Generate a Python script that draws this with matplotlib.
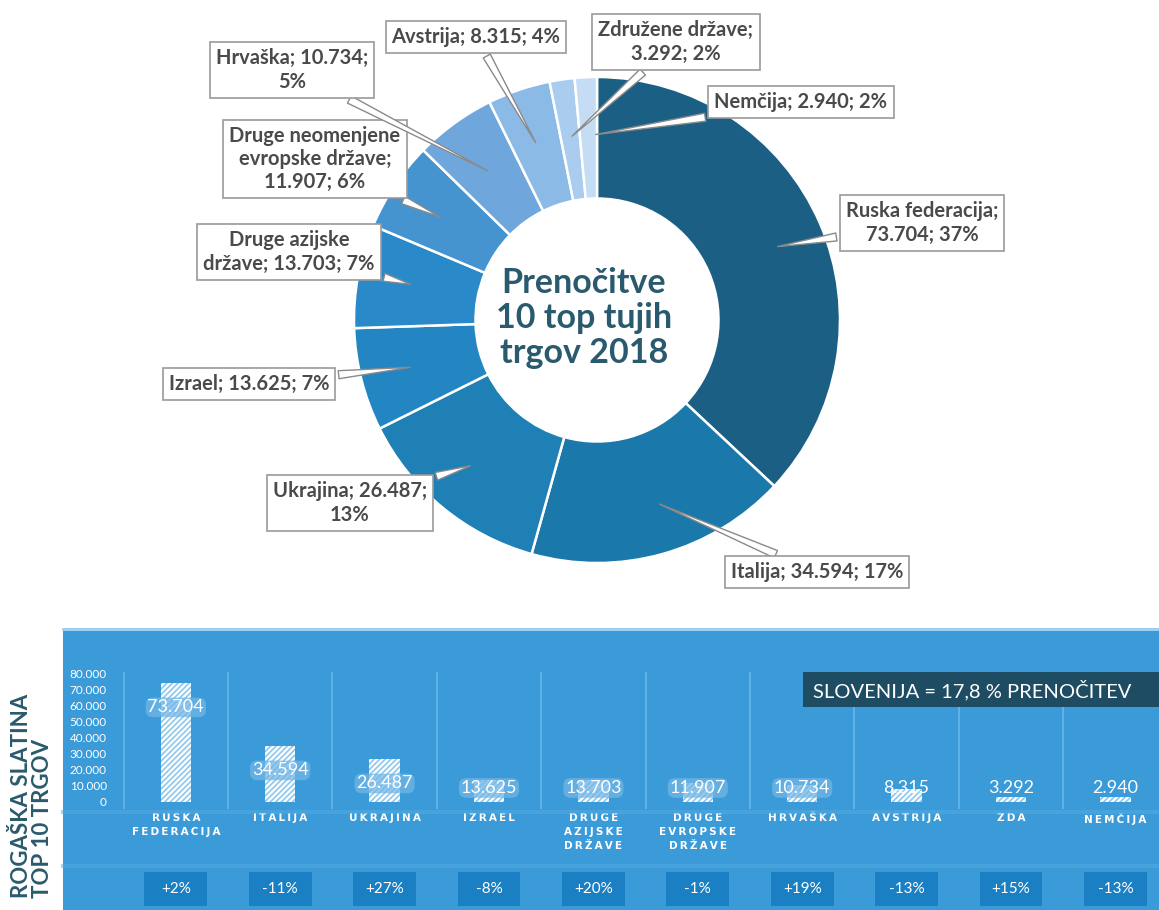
import matplotlib
matplotlib.use("Agg")
import matplotlib.pyplot as plt
from matplotlib.patches import Rectangle
from matplotlib.lines import Line2D
import numpy as np

# ---------------- data ----------------
donut_names = ["Ruska federacija", "Italija", "Ukrajina", "Izrael",
               "Druge azijske\ndržave", "Druge neomenjene\nevropske države",
               "Hrvaška", "Avstrija", "Združene države", "Nemčija"]
values = [73704, 34594, 26487, 13625, 13703, 11907, 10734, 8315, 3292, 2940]
shares = [37, 17, 13, 7, 7, 6, 5, 4, 2, 2]
# where the label wraps: 0 = one line, 1 = after name, 2 = after value
label_breaks = [1, 0, 2, 0, 0, 1, 2, 0, 1, 0]
donut_colors = ["#1b5f85", "#1a78ab", "#1f80b6", "#2386c2", "#2a89c8",
                "#4594d0", "#6fa7dc", "#8bbae7", "#a9ccef", "#c4dcf4"]
center_title = "Prenočitve\n10 top tujih\ntrgov 2018"

bar_categories = ["RUSKA\nFEDERACIJA", "ITALIJA", "UKRAJINA", "IZRAEL",
                  "DRUGE\nAZIJSKE\nDRŽAVE", "DRUGE\nEVROPSKE\nDRŽAVE",
                  "HRVAŠKA", "AVSTRIJA", "ZDA", "NEMČIJA"]
changes = ["+2%", "-11%", "+27%", "-8%", "+20%", "-1%", "+19%", "-13%", "+15%", "-13%"]
y_ticks = [0, 10000, 20000, 30000, 40000, 50000, 60000, 70000, 80000]
panel_title = ["ROGAŠKA SLATINA", "TOP 10 TRGOV"]
note_text = "SLOVENIJA = 17,8 % PRENOČITEV"


def fmt(v):
    return f"{v:,}".replace(",", ".")


# ---------------- figure ----------------
W, H = 1159, 910
fig = plt.figure(figsize=(W / 100, H / 100), dpi=100)
fig.patch.set_facecolor("white")


def fx(px):
    return px / W


def fy(py):
    return 1 - py / H


# ---------------- donut ----------------
cx, cy, R = 597, 320, 243
ax_pie = fig.add_axes([fx(cx - R), fy(cy + R), 2 * R / W, 2 * R / H])
ax_pie.pie(values, colors=donut_colors, startangle=90, counterclock=False,
           radius=1, wedgeprops=dict(width=0.5, edgecolor="white", linewidth=1.8))
ax_pie.set_xlim(-1, 1)
ax_pie.set_ylim(-1, 1)
ax_pie.axis("off")

fig.text(fx(584), fy(318), center_title, ha="center", va="center",
         fontsize=24.5, fontweight="bold", color="#2a5a6e", family="Lato",
         linespacing=1.12)

# callout labels (box centres and pointer tips in pixels)
box_pos = [(922, 223), (817, 572), (350, 503), (249, 384), (289, 252),
           (315, 159), (292, 70), (476, 37), (676, 42), (801, 102)]
tip_pos = [(775, 247), (657, 503), (473, 465), (413, 367), (413, 285),
           (442, 218), (490, 172), (537, 145), (570, 138), (593, 135)]

for name, v, s, b, bp, tp in zip(donut_names, values, shares, label_breaks,
                                 box_pos, tip_pos):
    if b == 0:
        txt = f"{name}; {fmt(v)}; {s}%"
    elif b == 1:
        txt = f"{name};\n{fmt(v)}; {s}%"
    else:
        txt = f"{name}; {fmt(v)};\n{s}%"
    ax_pie.annotate(
        txt, xy=(fx(tp[0]), fy(tp[1])), xycoords="figure fraction",
        xytext=(fx(bp[0]), fy(bp[1])), textcoords="figure fraction",
        ha="center", va="center", fontsize=14.5, fontweight="bold",
        family="Lato", color="#4a4a4a", linespacing=1.2,
        bbox=dict(boxstyle="square,pad=0.3", fc="white", ec="#9a9a9a", lw=1.2),
        arrowprops=dict(arrowstyle="wedge,tail_width=0.4,shrink_factor=0.5",
                        fc="white", ec="#8a8a8a", lw=1.0),
        annotation_clip=False)

# ---------------- bottom panel ----------------
panel = Rectangle((fx(63), fy(910)), (W - 63) / W, (910 - 628) / H,
                  transform=fig.transFigure, facecolor="#3a9bd8",
                  edgecolor="none", zorder=0)
fig.add_artist(panel)
fig.add_artist(Line2D([fx(63), 1], [fy(629), fy(629)], transform=fig.transFigure,
                      color="#a6d3f1", lw=2))
for yy in (812, 866):
    fig.add_artist(Line2D([fx(63), 1], [fy(yy), fy(yy)], transform=fig.transFigure,
                          color="#56ace2", lw=3, alpha=0.5))

for i, t in enumerate(panel_title):
    fig.text(fx(22 + 21 * i), fy(898), t, rotation=90, ha="center", va="bottom",
             fontsize=16, fontweight="bold", color="#2b5a6d", family="Lato")

# bar axes
col0, colw = 123.6, 104.4
ax_bar = fig.add_axes([fx(col0), fy(802), 10 * colw / W, 129 / H])
ax_bar.set_facecolor("none")
ax_bar.set_xlim(-0.5, 9.5)
ax_bar.set_ylim(0, 80000)
for sp in ax_bar.spines.values():
    sp.set_visible(False)
ax_bar.set_xticks([])
ax_bar.set_yticks(y_ticks)
ax_bar.set_yticklabels([fmt(t) for t in y_ticks], family="Lato", fontsize=8.5,
                       color="white")
ax_bar.tick_params(axis="y", length=0, pad=12)

x = np.arange(len(values))
for xv in np.arange(-0.5, 10, 1):
    ax_bar.axvline(xv, ymin=-0.045, ymax=1.0, color="#5fb2e5", lw=1.5,
                   clip_on=False, zorder=0)

plt.rcParams["hatch.linewidth"] = 1.2
ax_bar.bar(x, values, width=0.29, color="white", edgecolor="#8cc8ee",
           hatch="//////", linewidth=0, zorder=2)

for i, v in enumerate(values):
    ly = max(v - 15000, 8700)
    kw = {}
    if ly < v:
        kw["bbox"] = dict(boxstyle="round,pad=0.1,rounding_size=0.4",
                          fc="#72b6e6", ec="none", alpha=0.75)
    ax_bar.text(i, ly, fmt(v), ha="center", va="center", fontsize=13,
                color="white", family="Lato", zorder=3, **kw)
    spaced = "\n".join("\u2009".join(line) for line in bar_categories[i].split("\n"))
    ax_bar.annotate(spaced, xy=(i, 0), xytext=(0, -8), textcoords="offset points",
                    ha="center", va="top", fontsize=7.5, fontweight="bold",
                    color="white", family="DejaVu Sans", linespacing=1.5,
                    annotation_clip=False)

# change boxes
ax_pct = fig.add_axes([fx(col0), fy(906), 10 * colw / W, 34 / H])
ax_pct.set_xlim(-0.5, 9.5)
ax_pct.set_ylim(0, 1)
ax_pct.axis("off")
ax_pct.bar(x, [1] * len(changes), width=0.6, color="#1a7fc3", linewidth=0)
for i, c in enumerate(changes):
    ax_pct.text(i, 0.5, c, ha="center", va="center", fontsize=11,
                color="white", family="Lato")

# Slovenija note box
fig.add_artist(Rectangle((fx(803), fy(707)), (W - 803) / W, 35 / H,
                         transform=fig.transFigure, facecolor="#1e4c62",
                         edgecolor="none", zorder=3))
fig.text(fx(813), fy(690), note_text, ha="left", va="center", fontsize=14.5,
         color="white", family="Lato", zorder=4)

fig.savefig("out.png", dpi=100)
